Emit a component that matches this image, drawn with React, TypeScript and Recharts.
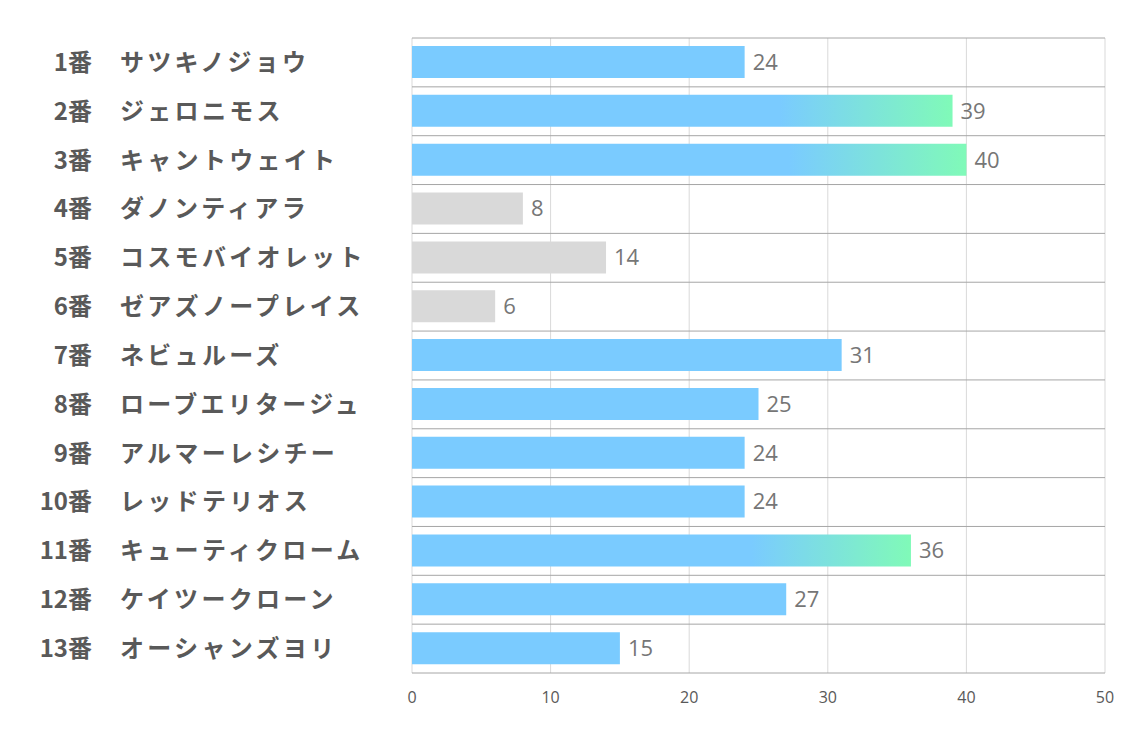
import React from "react";
import {
  BarChart,
  Bar,
  XAxis,
  YAxis,
  CartesianGrid,
  Cell,
  LabelList,
} from "recharts";

const horseNumbers = [1, 2, 3, 4, 5, 6, 7, 8, 9, 10, 11, 12, 13];
const horseNames = [
  "サツキノジョウ",
  "ジェロニモス",
  "キャントウェイト",
  "ダノンティアラ",
  "コスモバイオレット",
  "ゼアズノープレイス",
  "ネビュルーズ",
  "ローブエリタージュ",
  "アルマーレシチー",
  "レッドテリオス",
  "キューティクローム",
  "ケイツークローン",
  "オーシャンズヨリ",
];
const scores = [24, 39, 40, 8, 14, 6, 31, 25, 24, 24, 36, 27, 15];
const highlighted = [2, 3, 11];
const muted = [4, 5, 6];
const xTicks = [0, 10, 20, 30, 40, 50];

const data = horseNumbers.map((n, i) => ({
  label: `${n}番`,
  num: n,
  name: horseNames[i],
  score: scores[i],
}));

const BLUE = "#7acbff";
const GREEN = "#80fab8";
const GRAY = "#d9d9d9";
const TEXT = "#595959";

const HorseTick = (props: any) => {
  const { y, payload, index } = props;
  return (
    <g>
      <text
        x={84}
        y={y}
        dy="0.35em"
        textAnchor="end"
        fill={TEXT}
        fontSize={24}
        fontWeight={700}
        fontFamily="'Noto Sans CJK JP', sans-serif"
      >
        {payload.value}
      </text>
      <text
        x={112}
        y={y}
        dy="0.35em"
        textAnchor="start"
        fill={TEXT}
        fontSize={24}
        fontWeight={700}
        letterSpacing={3.3}
        fontFamily="'Noto Sans CJK JP', sans-serif"
      >
        {horseNames[index]}
      </text>
    </g>
  );
};

const App: React.FC = () => {
  const barColor = (n: number) =>
    highlighted.includes(n) ? "url(#barGrad)" : muted.includes(n) ? GRAY : BLUE;

  return (
    <div style={{ width: 1126, height: 729 }}>
      <BarChart
        width={1126}
        height={729}
        data={data}
        layout="vertical"
        margin={{ top: 30, right: 29, bottom: 34, left: 0 }}
        barSize={32}
      >
        <defs>
          <linearGradient id="barGrad" x1="0" y1="0" x2="1" y2="0">
            <stop offset="0%" stopColor={BLUE} />
            <stop offset="68%" stopColor={BLUE} />
            <stop offset="100%" stopColor={GREEN} />
          </linearGradient>
        </defs>
        <CartesianGrid horizontal={false} stroke="#d9d9d9" strokeWidth={1} />
        <CartesianGrid
          vertical={false}
          stroke="#a6a6a6"
          strokeWidth={1}
          horizontalCoordinatesGenerator={({ offset }: any) =>
            horseNumbers
              .concat([0])
              .map((_, i) => offset.top + (i * offset.height) / horseNumbers.length)
          }
        />
        <XAxis
          type="number"
          domain={[0, 50]}
          ticks={xTicks}
          axisLine={false}
          tickLine={false}
          tickMargin={13}
          height={30}
          tick={{ fill: TEXT, fontSize: 16, fontFamily: "'Open Sans', sans-serif" }}
        />
        <YAxis
          type="category"
          dataKey="label"
          width={404}
          axisLine={false}
          tickLine={false}
          tick={<HorseTick />}
          interval={0}
        />
        <Bar dataKey="score" isAnimationActive={false}>
          {data.map((d) => (
            <Cell key={d.num} fill={barColor(d.num)} />
          ))}
          <LabelList
            dataKey="score"
            position="right"
            offset={8}
            fill="#767676"
            fontSize={22}
            fontFamily="'Open Sans', sans-serif"
          />
        </Bar>
      </BarChart>
    </div>
  );
};

export default App;
